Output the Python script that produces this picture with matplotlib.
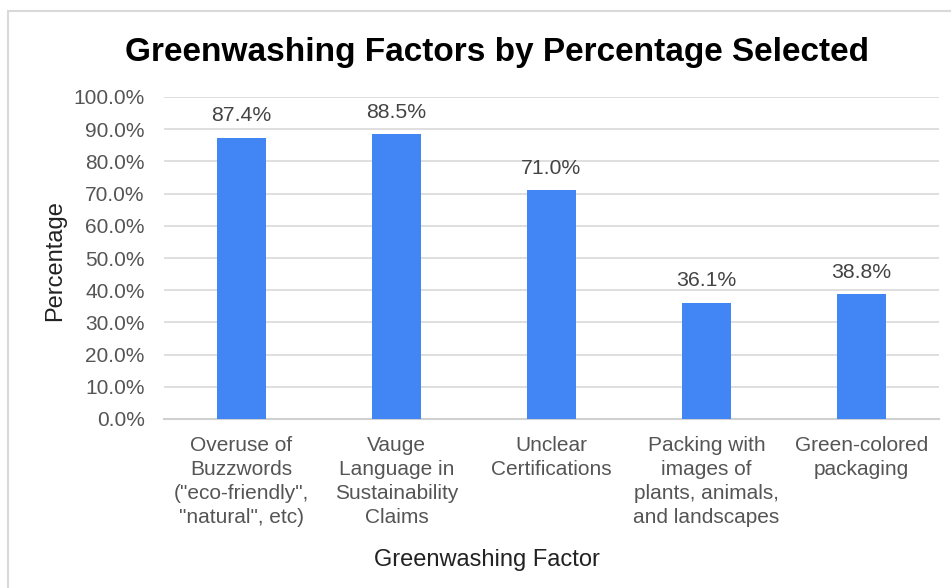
import matplotlib
matplotlib.use("Agg")
import matplotlib.pyplot as plt
from matplotlib.patches import Rectangle
from matplotlib.ticker import FuncFormatter

plt.rcParams['font.family'] = ['Liberation Sans', 'DejaVu Sans']

factors = [
    'Overuse of\nBuzzwords\n("eco-friendly",\n"natural", etc)',
    'Vauge\nLanguage in\nSustainability\nClaims',
    'Unclear\nCertifications',
    'Packing with\nimages of\nplants, animals,\nand landscapes',
    'Green-colored\npackaging',
]
percent = [87.4, 88.5, 71.0, 36.1, 38.8]
yticks = [0, 10, 20, 30, 40, 50, 60, 70, 80, 90, 100]

W, H = 951, 588
fig = plt.figure(figsize=(W / 100, H / 100), dpi=100)
ax = fig.add_axes([164 / W, 1 - 419 / H, (939 - 164) / W, (419 - 97) / H])

# outer chart frame, runs off the right and bottom edges
fig.patches.append(Rectangle((8 / W, -0.1), 1.2, 1 - 11 / H + 0.1,
                             transform=fig.transFigure, fill=False,
                             edgecolor='#d9d9d9', linewidth=1.5))

x = range(len(factors))
ax.bar(x, percent, width=0.32, color='#4285f4', zorder=3)
for i, v in zip(x, percent):
    ax.annotate(f'{v:.1f}%', (i, v), xytext=(0, 9), textcoords='offset points',
                ha='center', va='bottom', fontsize=15.3, color='#444444')

ax.set_xlim(-0.5, len(factors) - 0.5)
ax.set_ylim(0, 100)
ax.set_yticks(yticks)
ax.yaxis.set_major_formatter(FuncFormatter(lambda v, p: f'{v:.1f}%'))
ax.grid(axis='y', color='#d9d9d9', linewidth=1.2, zorder=0)
ax.set_xticks(list(x))
ax.set_xticklabels(factors, fontsize=15, color='#555555', linespacing=1.33)
ax.tick_params(axis='y', length=0, pad=14, labelsize=15, labelcolor='#555555')
ax.tick_params(axis='x', length=0, pad=12)
for s in ['top', 'right', 'left']:
    ax.spines[s].set_visible(False)
ax.spines['bottom'].set_color('#d0d0d0')
ax.spines['bottom'].set_linewidth(1.5)

fig.text(497 / W, 1 - 52 / H, 'Greenwashing Factors by Percentage Selected',
         ha='center', va='center', fontsize=24, fontweight='bold', color='black')
fig.text(487 / W, 1 - 560 / H, 'Greenwashing Factor', ha='center', va='center',
         fontsize=17, color='#222222')
fig.text(55 / W, 1 - 261 / H, 'Percentage', ha='center', va='center',
         rotation=90, fontsize=17, color='#222222')

fig.savefig('out.png', dpi=100, facecolor='white')
